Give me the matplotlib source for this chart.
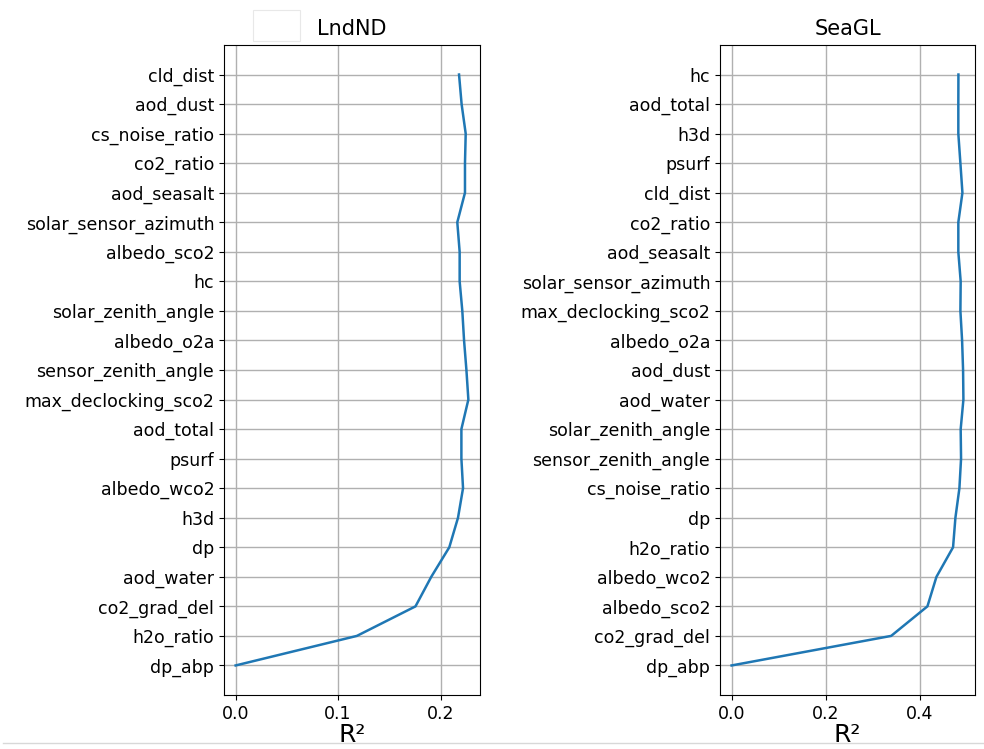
import matplotlib
matplotlib.use("Agg")
import matplotlib.pyplot as plt
from matplotlib.patches import Rectangle
from matplotlib.lines import Line2D

# Left panel (LndND), bottom to top
lnd_features = ["dp_abp", "h2o_ratio", "co2_grad_del", "aod_water", "dp", "h3d",
                "albedo_wco2", "psurf", "aod_total", "max_declocking_sco2",
                "sensor_zenith_angle", "albedo_o2a", "solar_zenith_angle", "hc",
                "albedo_sco2", "solar_sensor_azimuth", "aod_seasalt", "co2_ratio",
                "cs_noise_ratio", "aod_dust", "cld_dist"]
lnd_r2 = [0.0, 0.1183, 0.1755, 0.1909, 0.2085, 0.2170,
          0.2219, 0.2203, 0.2203, 0.2271,
          0.2252, 0.2229, 0.2212, 0.2186,
          0.2186, 0.2163, 0.2238, 0.2238,
          0.2245, 0.2205, 0.2180]

# Right panel (SeaGL), bottom to top
sea_features = ["dp_abp", "co2_grad_del", "albedo_sco2", "albedo_wco2", "h2o_ratio",
                "dp", "cs_noise_ratio", "sensor_zenith_angle", "solar_zenith_angle",
                "aod_water", "aod_dust", "albedo_o2a", "max_declocking_sco2",
                "solar_sensor_azimuth", "aod_seasalt", "co2_ratio", "cld_dist",
                "psurf", "h3d", "aod_total", "hc"]
sea_r2 = [0.0, 0.3392, 0.4163, 0.4355, 0.4708,
          0.4758, 0.4843, 0.4878, 0.4870,
          0.4928, 0.4921, 0.4900, 0.4864,
          0.4870, 0.4820, 0.4820, 0.4907,
          0.4864, 0.4820, 0.4820, 0.4822]

titles = ["LndND", "SeaGL"]
xticks_lnd = [0.0, 0.1, 0.2]
xticks_sea = [0.0, 0.2, 0.4]

fig = plt.figure(figsize=(9.84, 7.49), dpi=100)
W, H = 984, 749
ax1 = fig.add_axes([224 / W, 1 - 695 / H, (480 - 224) / W, (695 - 45) / H])
ax2 = fig.add_axes([720 / W, 1 - 695 / H, (975 - 720) / W, (695 - 45) / H])

for ax, feats, vals, title, xt in [(ax1, lnd_features, lnd_r2, titles[0], xticks_lnd),
                                   (ax2, sea_features, sea_r2, titles[1], xticks_sea)]:
    ax.plot(vals, range(len(vals)), color="#1f77b4", lw=1.8)
    ax.set_yticks(range(len(feats)))
    ax.set_yticklabels(feats, fontsize=12.5)
    ax.set_xticks(xt)
    ax.set_xticklabels([f"{v:.1f}" for v in xt], fontsize=12.5)
    ax.grid(True, color="#b0b0b0", lw=1.0)
    ax.set_axisbelow(True)
    ax.set_title(title, fontsize=15, pad=7)
    ax.set_xlabel("R²", fontsize=18, labelpad=0)

# faint empty legend-like box next to the first title
fig.add_artist(Rectangle((253 / W, 1 - 41 / H), 47 / W, 31 / H,
                         transform=fig.transFigure, fill=False,
                         edgecolor="#e8e8e8", lw=0.8))
# faint separator line at the bottom
fig.add_artist(Line2D([3 / W, 1], [1 - 743 / H, 1 - 743 / H],
                      transform=fig.transFigure, color="#d8d8d8", lw=1.0))

fig.savefig("out.png", dpi=100)
